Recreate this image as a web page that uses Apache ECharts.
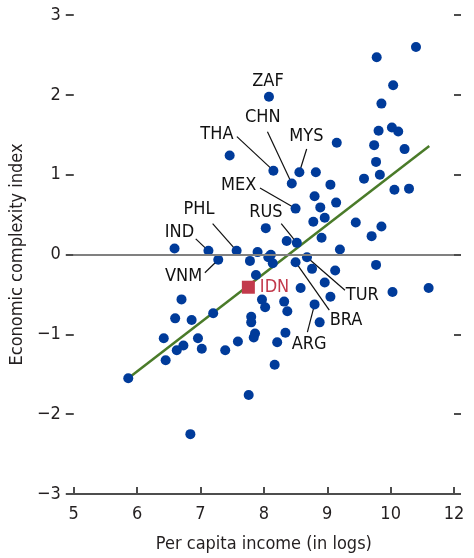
<!DOCTYPE html>
<html>
<head>
<meta charset="utf-8">
<script src="https://cdn.jsdelivr.net/npm/echarts@6/dist/echarts.min.js"></script>
<style>
html,body{margin:0;padding:0;background:#fff;}
#c{width:474px;height:558px;}
</style>
</head>
<body>
<div id="c"></div>
<script>
// ---- data ----
const xTickLabels = ['5','6','7','8','9','10','12'];
const yTickValues = [-3,-2,-1,0,1,2,3];

const otherX = [10.40, 9.78, 10.04, 9.855, 9.81, 10.02, 10.12, 9.15, 9.74, 10.22, 7.46, 9.77, 8.82, 9.83, 9.58, 9.05, 10.06, 10.29, 8.80, 9.14, 8.89, 8.96, 8.78, 9.45, 9.855, 8.03, 9.70, 8.91, 8.36, 9.20, 6.59, 7.90, 8.11, 8.07, 8.14, 7.78, 8.76, 9.125, 9.77, 7.875, 8.58, 8.96, 9.05, 10.03, 10.60, 7.97, 8.02, 8.32, 8.37, 8.88, 7.80, 7.80, 7.86, 7.84, 7.59, 8.34, 8.21, 8.17, 7.76, 6.70, 6.60, 6.86, 7.20, 6.42, 6.96, 6.73, 6.625, 7.02, 7.39, 6.45, 5.86, 6.84];
const otherY = [2.60, 2.47, 2.12, 1.89, 1.55, 1.59, 1.54, 1.40, 1.37, 1.32, 1.24, 1.16, 1.03, 1.00, 0.95, 0.875, 0.81, 0.825, 0.73, 0.65, 0.59, 0.46, 0.41, 0.40, 0.35, 0.33, 0.23, 0.21, 0.17, 0.0625, 0.075, 0.03, -0.004, -0.034, -0.11, -0.08, -0.18, -0.20, -0.13, -0.256, -0.42, -0.35, -0.53, -0.47, -0.42, -0.565, -0.66, -0.59, -0.71, -0.85, -0.78, -0.85, -0.99, -1.04, -1.09, -0.98, -1.10, -1.38, -1.76, -0.5625, -0.80, -0.82, -0.735, -1.05, -1.05, -1.14, -1.20, -1.18, -1.20, -1.325, -1.55, -2.25];

const labeledCodes = ['ZAF','CHN','THA','MYS','MEX','RUS','PHL','IND','VNM','TUR','BRA','ARG'];
const labeledX = [8.08, 8.44, 8.15, 8.56, 8.50, 8.52, 7.57, 7.125, 7.28, 8.68, 8.50, 8.80];
const labeledY = [1.975, 0.89, 1.05, 1.03, 0.575, 0.146, 0.046, 0.046, -0.066, -0.034, -0.096, -0.625];

const highlightCode = ['IDN'];
const highlightX = [7.755];
const highlightY = [-0.41];

const trendX = [5.86, 10.61];
const trendY = [-1.55, 1.36];

// ---- annotation layout (pixel offsets from the point) ----
const annot = {
  ZAF: {lx: -1, ly: -16, line: null},
  CHN: {lx: -29, ly: -66, line: [-24.3, -51.7]},
  THA: {lx: -56.5, ly: -36, line: [-36.5, -34]},
  MYS: {lx: 7, ly: -36, line: [7.3, -23.3]},
  MEX: {lx: -57, ly: -23, line: [-35.6, -20.7]},
  RUS: {lx: -31, ly: -31, line: [-15.6, -19.3]},
  PHL: {lx: -37.7, ly: -41, line: [-24, -27.3]},
  IND: {lx: -29, ly: -18.3, line: [-12.7, -12]},
  VNM: {lx: -34.7, ly: 16.2, line: [-13.4, 13]},
  TUR: {lx: 55.3, ly: 38.3, line: [38, 33]},
  BRA: {lx: 50.5, ly: 57.8, line: [33.7, 48]},
  ARG: {lx: -5.5, ly: 39.5, line: [-7.2, 27.7]}
};

const FONT = '"Liberation Sans Narrow", "DejaVu Sans Condensed", sans-serif';
const FS = 18;
const BLUE = '#003b9a';
const RED = '#c23a4c';
const GREEN = '#4a7b29';

const chart = echarts.init(document.getElementById('c'), null, {renderer: 'canvas'});

const zip = (a, b) => a.map((v, i) => [v, b[i]]);

const option = {
  animation: false,
  backgroundColor: '#fff',
  grid: {left: 70, right: 20, top: 15, bottom: 63, containLabel: false},
  xAxis: {
    type: 'value', min: 5, max: 11, interval: 1,
    name: 'Per capita income (in logs)', nameLocation: 'middle', nameGap: 41,
    nameTextStyle: {fontFamily: FONT, fontSize: FS, color: '#231f20'},
    axisLine: {show: true, onZero: false, lineStyle: {color: '#4d4d4d', width: 2}},
    axisTick: {show: true, inside: true, length: 7, lineStyle: {color: '#4d4d4d', width: 2}},
    axisLabel: {fontFamily: FONT, fontSize: FS, color: '#231f20', margin: 11,
      formatter: v => xTickLabels[Math.round(v - 5)]},
    splitLine: {show: false}
  },
  yAxis: [{
    type: 'value', min: -3, max: 3, interval: 1, position: 'left',
    name: 'Economic complexity index', nameLocation: 'middle', nameGap: 44,
    nameTextStyle: {fontFamily: FONT, fontSize: FS, color: '#231f20'},
    axisLine: {show: false},
    axisTick: {show: true, inside: false, length: 8, lineStyle: {color: '#4d4d4d', width: 2}},
    axisLabel: {fontFamily: FONT, fontSize: FS, color: '#231f20', margin: 13,
      formatter: v => String(v).replace('-', '\u2212')},
    splitLine: {show: false}
  }, {
    type: 'value', min: -3, max: 3, interval: 1, position: 'right',
    axisLine: {show: false},
    axisTick: {show: true, inside: false, length: 7, lineStyle: {color: '#4d4d4d', width: 2}},
    axisLabel: {show: false},
    splitLine: {show: false}
  }],
  series: [
    {
      type: 'line', data: zip(trendX, trendY), symbol: 'none',
      lineStyle: {color: GREEN, width: 2.5}, z: 3,
      markLine: {
        silent: true, symbol: 'none', label: {show: false},
        lineStyle: {color: '#808080', width: 2, type: 'solid'},
        data: [{yAxis: 0}]
      }
    },
    {
      type: 'scatter', data: zip(otherX, otherY), symbolSize: 10,
      itemStyle: {color: BLUE, opacity: 1}, z: 4
    },
    {
      type: 'scatter', data: zip(labeledX, labeledY), symbolSize: 10,
      itemStyle: {color: BLUE, opacity: 1}, z: 4
    },
    {
      type: 'scatter', data: zip(highlightX, highlightY), symbol: 'rect', symbolSize: 13,
      itemStyle: {color: RED, opacity: 1}, z: 5,
      label: {show: true, position: 'right', distance: 5, formatter: () => highlightCode[0],
        fontFamily: FONT, fontSize: FS, color: RED}
    }
  ]
};
chart.setOption(option);

const g = [];
labeledCodes.forEach((code, i) => {
  const p = chart.convertToPixel({gridIndex: 0}, [labeledX[i], labeledY[i]]);
  const a = annot[code];
  if (a.line) {
    g.push({type: 'line', z: 1, silent: true,
      shape: {x1: p[0] + a.line[0], y1: p[1] + a.line[1], x2: p[0], y2: p[1]},
      style: {stroke: '#111', lineWidth: 1.2}});
  }
  g.push({type: 'text', z: 10, silent: true,
    style: {text: code, x: p[0] + a.lx, y: p[1] + a.ly, align: 'center', verticalAlign: 'middle',
      font: FS + 'px ' + FONT, fill: '#111'}});
});
chart.setOption({graphic: g});
</script>
</body>
</html>
